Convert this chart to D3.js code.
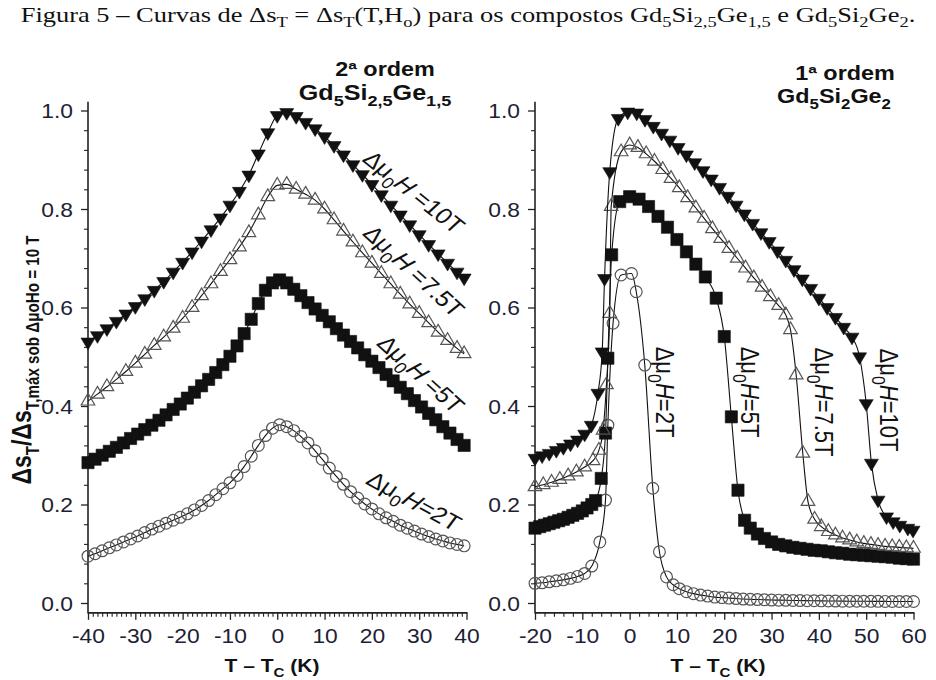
<!DOCTYPE html>
<html><head><meta charset="utf-8">
<script src="https://cdn.jsdelivr.net/npm/d3@7"></script>
<style>body{margin:0;background:#fff} svg{display:block}</style>
</head><body><svg id="c" width="936" height="680"></svg>
<script>
// ---------------- DATA ----------------
const leftT_fine = [-40,-38.5,-37,-35.5,-34,-32.5,-31,-29.5,-28,-26.5,-25,-23.5,-22,-20.5,-19,-17.5,-16,-14.5,-13,-11.5,-10,-8.5,-7,-5.5,-4,-2.5,-1,0.5,2,3.5,5,6.5,8,9.5,11,12.5,14,15.5,17,18.5,20,21.5,23,24.5,26,27.5,29,30.5,32,33.5,35,36.5,38,39.5];
const left2T = [0.095,0.100,0.106,0.112,0.118,0.124,0.130,0.136,0.143,0.150,0.156,0.162,0.168,0.174,0.181,0.189,0.198,0.208,0.220,0.232,0.244,0.259,0.277,0.298,0.320,0.340,0.355,0.362,0.358,0.350,0.338,0.325,0.309,0.292,0.274,0.257,0.241,0.226,0.213,0.201,0.191,0.181,0.173,0.166,0.158,0.152,0.146,0.140,0.135,0.130,0.126,0.122,0.119,0.116];
const left5T = [0.285,0.292,0.300,0.308,0.316,0.325,0.334,0.343,0.352,0.361,0.371,0.382,0.393,0.404,0.416,0.428,0.441,0.454,0.468,0.484,0.501,0.522,0.547,0.576,0.608,0.635,0.650,0.656,0.650,0.637,0.624,0.610,0.597,0.584,0.571,0.557,0.544,0.531,0.518,0.504,0.491,0.478,0.464,0.451,0.438,0.425,0.411,0.398,0.385,0.372,0.358,0.345,0.332,0.320];
const leftT_coarse = [-40,-38,-36,-34,-32,-30,-28,-26,-24,-22,-20,-18,-16,-14,-12,-10,-8,-6,-4,-2,0,2,4,6,8,10,12,14,16,18,20,22,24,26,28,30,32,34,36,38,39.5];
const left75T = [0.410,0.424,0.439,0.454,0.470,0.487,0.505,0.523,0.540,0.558,0.578,0.600,0.624,0.648,0.673,0.697,0.723,0.752,0.788,0.825,0.848,0.850,0.840,0.830,0.818,0.800,0.778,0.755,0.733,0.711,0.690,0.669,0.648,0.627,0.607,0.588,0.569,0.550,0.533,0.517,0.506];
const left10T = [0.530,0.543,0.557,0.572,0.587,0.602,0.618,0.635,0.653,0.672,0.692,0.713,0.735,0.758,0.782,0.808,0.836,0.869,0.912,0.955,0.990,0.996,0.988,0.976,0.963,0.947,0.929,0.910,0.890,0.870,0.850,0.829,0.808,0.788,0.768,0.748,0.728,0.709,0.690,0.672,0.660];

const right2T_T = [-20,-18.5,-17,-15.5,-14,-12.5,-11,-9.5,-8,-6.3,-5.1,-4.6,-3.5,-1.8,0.4,1.4,3.2,4.9,6.3,7.8,9.2,10.5,12,13.5,15,16.5,18,19.5,21,22.5,24,25.5,27,28.5,30,31.5,33,34.5,36,37.5,39,40.5,42,43.5,45,46.5,48,49.5,51,52.5,54,55.5,57,58.5,60];
const right2T = [0.040,0.041,0.043,0.045,0.047,0.050,0.054,0.060,0.075,0.124,0.209,0.361,0.568,0.666,0.669,0.632,0.483,0.233,0.104,0.053,0.037,0.029,0.023,0.019,0.016,0.014,0.012,0.011,0.010,0.009,0.008,0.0075,0.007,0.0065,0.006,0.0058,0.0055,0.0052,0.005,0.0048,0.0046,0.0044,0.0042,0.004,0.0038,0.0037,0.0036,0.0035,0.0034,0.0033,0.0032,0.0031,0.003,0.003,0.003];
const right5T_T = [-20,-19,-18,-17,-16,-15,-14,-13,-12,-11,-10,-9,-8,-7.2,-6,-5.1,-4.6,-3.8,-2.1,0,2,4,6,8,10,12,14,16,18.3,20,21.5,22.9,24.3,25.5,27,28.5,30,31.5,33,34.5,36,37.5,39,40.5,42,43.5,45,46.5,48,49.5,51,52.5,54,55.5,57,58.5,60];
const right5T = [0.152,0.155,0.158,0.161,0.164,0.167,0.170,0.174,0.178,0.182,0.187,0.193,0.200,0.208,0.253,0.345,0.497,0.707,0.815,0.825,0.820,0.805,0.785,0.763,0.738,0.713,0.688,0.662,0.619,0.541,0.378,0.229,0.168,0.152,0.140,0.131,0.124,0.119,0.116,0.113,0.111,0.109,0.107,0.106,0.104,0.102,0.101,0.099,0.098,0.097,0.096,0.095,0.094,0.093,0.091,0.090,0.089];
const right75T_T = [-20,-18.25,-16.5,-14.75,-13,-11.25,-9.5,-7.75,-6.5,-5.6,-4.9,-4.2,-3.9,-1.8,0,1.75,3.5,5.25,7,8.75,10.5,12.25,14,15.75,17.5,19.25,21,22.75,24.5,26.25,28,29.75,31.5,33,34,35.2,36.6,37.7,39.1,40.5,42,43.5,45,46.5,48,49.5,51,52.5,54,55.5,57,58.5,60];
const right75T = [0.236,0.240,0.245,0.251,0.258,0.266,0.276,0.289,0.310,0.351,0.443,0.588,0.805,0.916,0.930,0.925,0.912,0.897,0.880,0.862,0.843,0.823,0.802,0.781,0.760,0.740,0.720,0.700,0.680,0.660,0.641,0.622,0.604,0.585,0.555,0.463,0.304,0.206,0.170,0.155,0.145,0.138,0.132,0.128,0.124,0.121,0.119,0.117,0.115,0.114,0.113,0.112,0.111];
const right10T_T = [-20,-18.5,-17,-15.5,-14,-12.5,-11,-9.5,-8.1,-6.7,-5.8,-5.3,-4.2,-2.4,-0.4,1.5,3.25,5,6.75,8.5,10.25,12,13.75,15.5,17.25,19,20.75,22.5,24.25,26,27.75,29.5,31.25,33,34.75,36.5,38.25,40,41.75,43.5,45.25,47,48.6,50,51.1,52.5,54.3,55.7,57.1,58.8,59.9];
const right10T = [0.294,0.299,0.304,0.310,0.316,0.323,0.331,0.343,0.361,0.426,0.510,0.659,0.876,0.984,0.997,0.995,0.982,0.968,0.954,0.940,0.925,0.910,0.894,0.878,0.861,0.844,0.826,0.808,0.790,0.771,0.752,0.734,0.715,0.696,0.677,0.658,0.639,0.619,0.600,0.580,0.560,0.540,0.500,0.405,0.284,0.209,0.175,0.165,0.158,0.152,0.148];

const yTicks = [0.0,0.2,0.4,0.6,0.8,1.0];
const leftXTicks = [-40,-30,-20,-10,0,10,20,30,40];
const rightXTicks = [-20,-10,0,10,20,30,40,50,60];
const fieldLabels = ["2T","5T","7.5T","10T"];
const titleText = "Figura 5 – Curvas de Δs_{T} = Δs_{T}(T,H_{o}) para os compostos Gd_{5}Si_{2,5}Ge_{1,5} e Gd_{5}Si_{2}Ge_{2}.";
const yTitle = "Δs_{T}/Δs_{T,máx sob ΔμoHo = 10 T}";
const xTitle = "T – T_{C} (K)";
const leftTitle = ["2ª ordem", "Gd_{5}Si_{2,5}Ge_{1,5}"];
const rightTitle = ["1ª ordem", "Gd_{5}Si_{2}Ge_{2}"];

// ---------------- DRAW ----------------
const SX = 1.17;
const svg = d3.select("#c");
svg.append("rect").attr("width",936).attr("height",680).attr("fill","#fff");
const SANS = "'Liberation Sans', Arial, Helvetica, sans-serif";
const TXT = "#1c2233";

function rich(sel, str, fs, subScale, shift) {
  subScale = subScale || 0.7; shift = shift || 0.3;
  const re = /_\{([^}]*)\}/g;
  let parts = [], last = 0, m;
  while ((m = re.exec(str))) {
    if (m.index > last) parts.push([str.slice(last, m.index), false]);
    parts.push([m[1], true]); last = re.lastIndex;
  }
  if (last < str.length) parts.push([str.slice(last), false]);
  let cur = 0;
  parts.forEach(([s, sub]) => {
    const want = sub ? fs*shift : 0;
    sel.append("tspan").attr("dy", want - cur).attr("font-size", sub ? fs*subScale : fs).text(s);
    cur = want;
  });
}

// Title
{
  const t = svg.append("text").attr("transform", `translate(468,22) scale(1.26,1)`)
    .attr("text-anchor","middle").attr("font-family","'Liberation Serif','Times New Roman',serif")
    .attr("font-size",21).attr("fill","#111");
  rich(t, titleText, 21, 0.7, 0.25);
}

const y = d3.scaleLinear().domain([0,1]).range([603,110.5]);
const yMinor = d3.range(0, 1.0001, 0.04).filter(v => Math.abs(v/0.2 - Math.round(v/0.2)) > 1e-6);

function markerPath(kind) {
  if (kind === "square") return "M-6.1,-6.1h12.2v12.2h-12.2z";
  if (kind === "up") return "M0,-7.8L6.8,3.9L-6.8,3.9Z";
  if (kind === "down") return "M0,7.8L7,-3.9L-7,-3.9Z";
  return null;
}

function panel(opt) {
  const x = d3.scaleLinear().domain(opt.xDomain).range(opt.xRange);
  const g = svg.append("g");
  const ax0 = opt.xRange[0], ay0 = y(-0.02);
  // y axis
  const ya = g.append("g").attr("transform", `translate(${ax0},0)`)
    .call(d3.axisLeft(y).tickValues(yTicks).tickSize(7).tickSizeOuter(0).tickFormat(d3.format(".1f")));
  ya.select(".domain").remove();
  ya.selectAll("line").attr("stroke","#222").attr("stroke-width",1.3);
  ya.selectAll("text").attr("x", -15/SX).attr("dy","0.36em").attr("transform",`scale(${SX},1)`)
    .attr("font-family",SANS).attr("font-size",19.5).attr("fill",TXT);
  const ym = g.append("g").attr("transform", `translate(${ax0},0)`)
    .call(d3.axisLeft(y).tickValues(yMinor).tickSize(4).tickSizeOuter(0).tickFormat(""));
  ym.select(".domain").remove();
  ym.selectAll("line").attr("stroke","#222").attr("stroke-width",1.1);
  // x axis
  const xa = g.append("g").attr("transform", `translate(0,${ay0})`)
    .call(d3.axisBottom(x).tickValues(opt.xTicks).tickSize(7).tickSizeOuter(0).tickFormat(d => String(d)));
  xa.select(".domain").remove();
  xa.selectAll("line").attr("stroke","#222").attr("stroke-width",1.3);
  xa.selectAll("text").attr("y", 30.5).attr("dy", 0).attr("transform",`scale(${SX},1)`)
    .attr("font-family",SANS).attr("font-size",19.5).attr("fill",TXT);
  const xm = g.append("g").attr("transform", `translate(0,${ay0})`)
    .call(d3.axisBottom(x).tickValues(opt.xMinor).tickSize(4).tickSizeOuter(0).tickFormat(""));
  xm.select(".domain").remove();
  xm.selectAll("line").attr("stroke","#222").attr("stroke-width",1.1);
  // axis lines
  g.append("line").attr("x1",ax0).attr("x2",ax0).attr("y1",y(1.018)).attr("y2",ay0+0.7)
    .attr("stroke","#222").attr("stroke-width",1.6);
  g.append("line").attr("x1",ax0).attr("x2",opt.xRange[1]+1).attr("y1",ay0).attr("y2",ay0)
    .attr("stroke","#222").attr("stroke-width",1.6);

  // series
  opt.series.forEach(s => {
    const pts = s.T.map((t,i) => [t, s.V[i]]);
    const line = d3.line().x(d => x(d[0])).y(d => y(d[1])).curve(d3.curveMonotoneX);
    g.append("path").attr("d", line(pts)).attr("fill","none").attr("stroke","#111").attr("stroke-width",1.1);
    const mg = g.append("g");
    if (s.kind === "circle") {
      mg.selectAll("circle").data(pts).join("circle")
        .attr("cx", d => x(d[0])).attr("cy", d => y(d[1])).attr("r", 5.9)
        .attr("fill","none").attr("stroke","#555").attr("stroke-width",1.2);
    } else {
      const filled = s.kind !== "up";
      mg.selectAll("path").data(pts).join("path")
        .attr("transform", d => `translate(${x(d[0])},${y(d[1])})`)
        .attr("d", markerPath(s.kind))
        .attr("fill", filled ? "#111" : "none")
        .attr("stroke", filled ? "#111" : "#555").attr("stroke-width", filled ? 0.6 : 1.2);
    }
  });

  // curve labels
  opt.labels.forEach((L, i) => {
    const t = g.append("text")
      .attr("transform", `translate(${L.x},${L.y}) scale(${SX},1) rotate(${L.a})`)
      .attr("text-anchor","middle").attr("dy","0.35em")
      .attr("font-family",SANS).attr("font-size",22).attr("fill","#111");
    t.append("tspan").text("Δμ");
    t.append("tspan").attr("dy", 6.5).attr("font-size", 16).text("0");
    t.append("tspan").attr("dy", -6.5).attr("font-style","italic").text("H");
    t.append("tspan").text((L.sp ? " =" : "=") + fieldLabels[i]);
  });

  // panel titles
  const cx = opt.titleX;
  g.append("text").attr("transform",`translate(${cx[0]},${opt.titleY[0]}) scale(${SX},1)`)
    .attr("text-anchor","middle").attr("font-family",SANS).attr("font-weight","bold")
    .attr("font-size",20).attr("fill","#111").text(opt.title[0]);
  const t2 = g.append("text").attr("transform",`translate(${cx[1]},${opt.titleY[1]}) scale(${SX},1)`)
    .attr("text-anchor","middle").attr("font-family",SANS).attr("font-weight","bold")
    .attr("font-size",opt.title2Size).attr("fill","#111");
  rich(t2, opt.title[1], opt.title2Size, 0.72, 0.3);

  // x title
  const xt = g.append("text").attr("transform",`translate(${opt.xTitleX},672) scale(${SX},1)`)
    .attr("text-anchor","middle").attr("font-family",SANS).attr("font-weight","bold")
    .attr("font-size",18).attr("fill","#111");
  rich(xt, xTitle, 18, 0.72, 0.25);
}

panel({
  xDomain: [-40, 40], xRange: [88, 466.5],
  xTicks: leftXTicks, xMinor: d3.range(-40, 40.01, 1).filter(v => v % 10 !== 0),
  series: [
    {T: leftT_fine, V: left2T, kind: "circle"},
    {T: leftT_fine, V: left5T, kind: "square"},
    {T: leftT_coarse, V: left75T, kind: "up"},
    {T: leftT_coarse, V: left10T, kind: "down"}
  ],
  labels: [
    {x: 414, y: 501, a: 32.5, sp: false},
    {x: 421, y: 374, a: 46.6, sp: true},
    {x: 414, y: 271, a: 47, sp: true},
    {x: 414, y: 192, a: 43, sp: true}
  ],
  title: leftTitle, titleX: [385, 375], titleY: [76, 100], title2Size: 21.5,
  xTitleX: 272
});

panel({
  xDomain: [-20, 60], xRange: [535, 913.5],
  xTicks: rightXTicks, xMinor: d3.range(-20, 60.01, 2).filter(v => v % 10 !== 0),
  series: [
    {T: right2T_T, V: right2T, kind: "circle"},
    {T: right5T_T, V: right5T, kind: "square"},
    {T: right75T_T, V: right75T, kind: "up"},
    {T: right10T_T, V: right10T, kind: "down"}
  ],
  labels: [
    {x: 665, y: 392, a: 90, sp: false},
    {x: 750, y: 392, a: 90, sp: false},
    {x: 824, y: 402, a: 90, sp: false},
    {x: 889, y: 400, a: 90, sp: false}
  ],
  title: rightTitle, titleX: [845, 834], titleY: [80, 103], title2Size: 20,
  xTitleX: 718
});

// y title
{
  const t = svg.append("text").attr("transform",`translate(31,360) scale(${SX},1) rotate(-90)`)
    .attr("text-anchor","middle").attr("font-family",SANS).attr("font-weight","bold")
    .attr("font-size",23).attr("fill","#111");
  rich(t, yTitle, 23, 0.66, 0.3);
}
</script></body></html>
